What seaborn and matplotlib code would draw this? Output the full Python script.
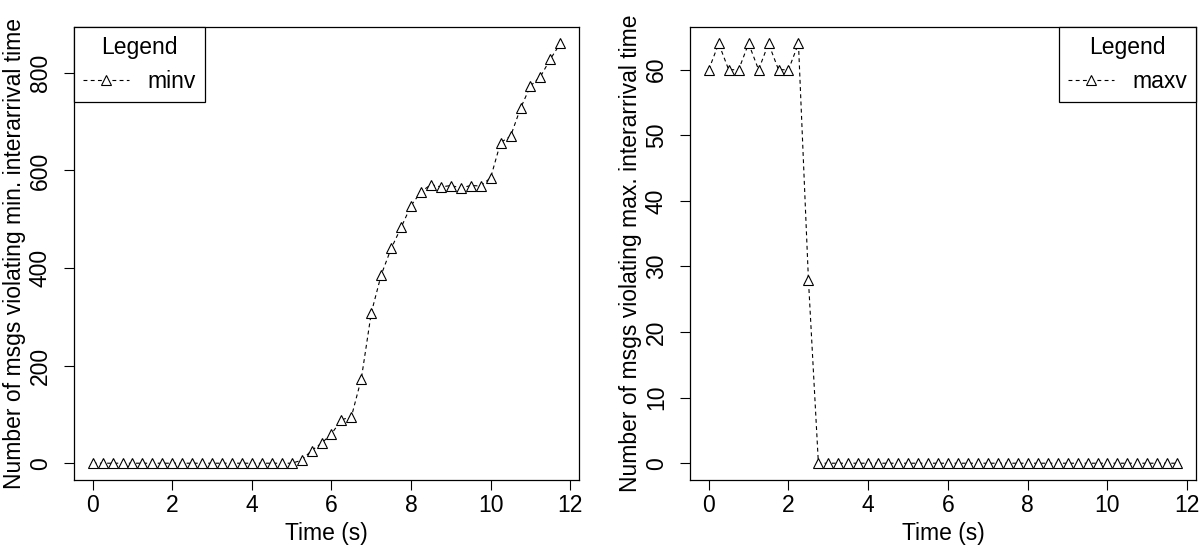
import pandas as pd
import seaborn as sns
from matplotlib import pyplot as plt

# time steps (s) and message counts
time_s = [i * 0.25 for i in range(48)]
minv = [0] * 21 + [6, 26, 41, 60, 89, 95, 173, 308, 386, 440, 483, 528, 556,
                   571, 566, 569, 564, 569, 568, 585, 657, 670, 727, 773, 792,
                   828, 860]
maxv = [60, 64, 60, 60, 64, 60, 64, 60, 60, 64, 28] + [0] * 37

x_ticks = [0, 2, 4, 6, 8, 10, 12]
left_yticks = [0, 200, 400, 600, 800]
right_yticks = [0, 10, 20, 30, 40, 50, 60]

FS = 16.5

sns.set_style("ticks")
plt.rcParams['font.family'] = ['Liberation Sans', 'DejaVu Sans']
plt.rcParams['font.size'] = FS
plt.rcParams['axes.edgecolor'] = 'black'
plt.rcParams['xtick.color'] = 'black'
plt.rcParams['ytick.color'] = 'black'
plt.rcParams['text.color'] = 'black'
plt.rcParams['axes.labelcolor'] = 'black'

df = pd.DataFrame({'time': time_s, 'minv': minv, 'maxv': maxv})

fig = plt.figure(figsize=(12, 5.53), dpi=100)
ax_l = fig.add_axes([74 / 1200, 1 - 480 / 553, 505 / 1200, 453.3 / 553])
ax_r = fig.add_axes([690 / 1200, 1 - 480 / 553, 506 / 1200, 453.3 / 553])


def r_limits(lo, hi):
    # R style axis: 4% padding on each side
    pad = (hi - lo) * 0.04
    return lo - pad, hi + pad


panels = [
    (ax_l, 'minv', left_yticks, "Number of msgs violating min. interarrival time", 'upper left'),
    (ax_r, 'maxv', right_yticks, "Number of msgs violating max. interarrival time", 'upper right'),
]

for ax, col, yticks, ylabel, loc in panels:
    sns.lineplot(data=df, x='time', y=col, ax=ax, color='black', linewidth=0.8,
                 marker='^', markersize=7.5, markerfacecolor='white',
                 markeredgecolor='black', markeredgewidth=0.8, label=col)
    line = ax.lines[0]
    line.set_dashes((3.5, 3))
    ax.set_xlim(*r_limits(0, 11.75))
    ax.set_ylim(*r_limits(0, max(df[col])))
    ax.set_xticks(x_ticks)
    ax.set_yticks(yticks)
    ax.set_xlabel("Time (s)", fontsize=FS, labelpad=4)
    ax.set_ylabel(ylabel, fontsize=FS, labelpad=2)
    ax.tick_params(axis='both', length=7, width=0.8, labelsize=FS)
    ax.tick_params(axis='x', pad=3)
    ax.tick_params(axis='y', labelrotation=90, pad=9)
    for lab in ax.get_yticklabels():
        lab.set_va('center')
    for s in ax.spines.values():
        s.set_linewidth(0.9)
        s.set_color('black')
    if ax.get_legend() is not None:
        ax.get_legend().remove()
    leg = ax.legend(handles=[line], labels=[col], title="Legend", loc=loc,
                    borderaxespad=0, fancybox=False, framealpha=1,
                    edgecolor='black', fontsize=FS, title_fontsize=FS,
                    handlelength=2.0, handletextpad=0.8, borderpad=0.4,
                    labelspacing=0.5)
    leg.get_frame().set_linewidth(0.9)

fig.savefig("out.png", dpi=100)
